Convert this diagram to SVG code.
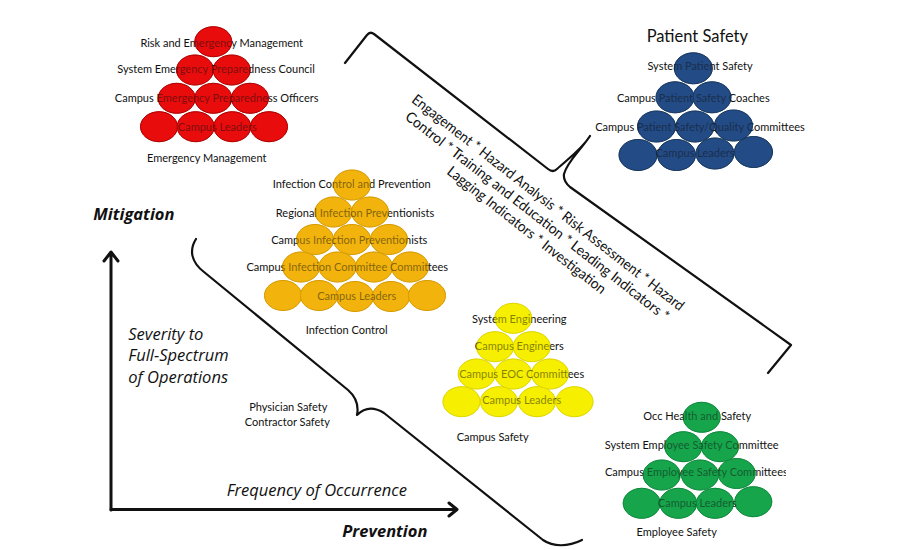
<svg xmlns="http://www.w3.org/2000/svg" xmlns:xlink="http://www.w3.org/1999/xlink" width="900" height="550" viewBox="0 0 900 550">
<style>
.lbl{font-family:Lato,"Open Sans","Liberation Sans",sans-serif;font-size:11px;fill:#111;text-anchor:middle}
.ttl{font-family:Lato,"Open Sans","Liberation Sans",sans-serif;font-size:16.5px;fill:#111;text-anchor:middle}
.ax{font-family:"Open Sans","Liberation Sans",sans-serif;font-style:italic;font-size:16.5px;fill:#111}
.axb{font-family:"Open Sans","Liberation Sans",sans-serif;font-style:italic;font-weight:bold;font-size:16.5px;fill:#111}
.rot{font-family:Lato,"Open Sans","Liberation Sans",sans-serif;font-size:14.5px;fill:#111;text-anchor:middle}
.line{fill:none;stroke:#111;stroke-width:2.2;stroke-linecap:round;stroke-linejoin:round}
.axis{fill:none;stroke:#111;stroke-width:3;stroke-linecap:round;stroke-linejoin:round}
.red{fill:#e80c0c;stroke:#b00000;stroke-width:1}
.blue{fill:#234b86;stroke:#17375e;stroke-width:1}
.gold{fill:#f2b40c;stroke:#d89c00;stroke-width:1}
.yel{fill:#f6ef00;stroke:#e0d800;stroke-width:1}
.grn{fill:#17a54c;stroke:#0e8a3c;stroke-width:1}
.ov{opacity:0.5}
</style>
<defs>
<g id="redC">
<ellipse cx="213.3" cy="41.7" rx="18.5" ry="15"/>
<ellipse cx="195" cy="70" rx="18.5" ry="15"/><ellipse cx="231.7" cy="70" rx="18.5" ry="15"/>
<ellipse cx="176.7" cy="98.3" rx="18.5" ry="15"/><ellipse cx="213.3" cy="98.3" rx="18.5" ry="15"/><ellipse cx="250" cy="98.3" rx="18.5" ry="15"/>
<ellipse cx="159" cy="126.7" rx="18.5" ry="15"/><ellipse cx="195.7" cy="126.7" rx="18.5" ry="15"/><ellipse cx="232.3" cy="126.7" rx="18.5" ry="15"/><ellipse cx="269" cy="126.7" rx="18.5" ry="15"/>
</g>
<g id="blueC">
<ellipse cx="693.3" cy="68.3" rx="19" ry="15.5"/>
<ellipse cx="675" cy="97.3" rx="19" ry="15.5"/><ellipse cx="712" cy="97.3" rx="19" ry="15.5"/>
<ellipse cx="656.5" cy="126.5" rx="19" ry="15.5"/><ellipse cx="695" cy="126.5" rx="19" ry="15.5"/><ellipse cx="733.5" cy="125.5" rx="19" ry="15.5"/>
<ellipse cx="638" cy="155" rx="19" ry="15.5"/><ellipse cx="676.5" cy="155" rx="19" ry="15.5"/><ellipse cx="715" cy="153.5" rx="19" ry="15.5"/><ellipse cx="753.5" cy="152" rx="19" ry="15.5"/>
</g>
<g id="goldC">
<ellipse cx="352" cy="185" rx="18.5" ry="15"/>
<ellipse cx="333.5" cy="212" rx="18.5" ry="15"/><ellipse cx="370" cy="212" rx="18.5" ry="15"/>
<ellipse cx="315" cy="239.5" rx="18.5" ry="15"/><ellipse cx="352" cy="239.5" rx="18.5" ry="15"/><ellipse cx="389" cy="239.5" rx="18.5" ry="15"/>
<ellipse cx="301" cy="267" rx="18.5" ry="15"/><ellipse cx="337.5" cy="267" rx="18.5" ry="15"/><ellipse cx="374" cy="267" rx="18.5" ry="15"/><ellipse cx="410" cy="267" rx="18.5" ry="15"/>
<ellipse cx="283" cy="295.5" rx="18.5" ry="15"/><ellipse cx="319" cy="295.5" rx="18.5" ry="15"/><ellipse cx="355" cy="296.5" rx="18.5" ry="15"/><ellipse cx="391" cy="296.5" rx="18.5" ry="15"/><ellipse cx="427" cy="295.5" rx="18.5" ry="15"/>
</g>
<g id="yelC">
<ellipse cx="513.3" cy="318.3" rx="18.5" ry="15"/>
<ellipse cx="495" cy="346.7" rx="18.5" ry="15"/><ellipse cx="531.7" cy="346.7" rx="18.5" ry="15"/>
<ellipse cx="476.7" cy="374" rx="18.5" ry="15"/><ellipse cx="513.3" cy="374" rx="18.5" ry="15"/><ellipse cx="550" cy="374" rx="18.5" ry="15"/>
<ellipse cx="461.5" cy="401.7" rx="18.5" ry="15"/><ellipse cx="499" cy="401.7" rx="18.5" ry="15"/><ellipse cx="537" cy="401.7" rx="18.5" ry="15"/><ellipse cx="574.5" cy="401.7" rx="18.5" ry="15"/>
</g>
<g id="grnC">
<ellipse cx="701.7" cy="417.3" rx="18.5" ry="15"/>
<ellipse cx="683.3" cy="446.7" rx="18.5" ry="15"/><ellipse cx="720" cy="446.7" rx="18.5" ry="15"/>
<ellipse cx="661.7" cy="475" rx="18.5" ry="15"/><ellipse cx="700" cy="475" rx="18.5" ry="15"/><ellipse cx="736.7" cy="473.5" rx="18.5" ry="15"/>
<ellipse cx="641.7" cy="503.3" rx="18.5" ry="15"/><ellipse cx="678.3" cy="503.3" rx="18.5" ry="15"/><ellipse cx="715" cy="503.3" rx="18.5" ry="15"/><ellipse cx="753.3" cy="501.7" rx="18.5" ry="15"/>
</g>
<clipPath id="grnClip"><rect x="580" y="460" width="206" height="25"/></clipPath>
</defs>
<rect width="900" height="550" fill="#fff"/>

<g id="connectors">
<path class="line" d="M345,63 L367,35 Q370,31 374,34 L548,169 Q553,173 557,169 C568,159 582,149 590,136 C580,151 567,162 564,174 Q563,181 570,187 L791,345 L768,373"/>
<path class="line" d="M196,239 C189,250 191,262 204,272 L348,390 C356,397 359,405 357,415 C364,408 373,406 384,413 L543,540 C553,547 568,547 582,540"/>
<path class="axis" d="M111,510 L111,253 M104,261 L111,252 L118,261"/>
<path class="axis" d="M111,509.5 L456,509.5 M449,503 L457,509.5 L449,516"/>
</g>

<g id="node-emergency">
<use xlink:href="#redC" class="red"/>
<text class="lbl" x="221.7" y="46.5">Risk and Emergency Management</text>
<text class="lbl" x="216" y="72.5">System Emergency Preparedness Council</text>
<text class="lbl" x="216.7" y="102">Campus Emergency Preparedness Officers</text>
<text class="lbl" x="217.3" y="131">Campus Leaders</text>
<use xlink:href="#redC" class="red ov"/>
<text class="lbl" x="206.7" y="161.5">Emergency Management</text>
</g>

<g id="node-patient">
<text class="ttl" x="697.3" y="42">Patient Safety</text>
<use xlink:href="#blueC" class="blue"/>
<text class="lbl" x="700" y="70">System Patient Safety</text>
<text class="lbl" x="693.3" y="102">Campus Patient Safety Coaches</text>
<text class="lbl" x="700" y="131">Campus Patient Safety/Quality Committees</text>
<text class="lbl" x="695" y="157">Campus Leaders</text>
<use xlink:href="#blueC" class="blue ov"/>
</g>

<g id="node-infection">
<use xlink:href="#goldC" class="gold"/>
<text class="lbl" x="351.7" y="188">Infection Control and Prevention</text>
<text class="lbl" x="355" y="217">Regional Infection Preventionists</text>
<text class="lbl" x="349.3" y="243.5">Campus Infection Preventionists</text>
<text class="lbl" x="347.3" y="271">Campus Infection Committee Committees</text>
<text class="lbl" x="356.7" y="300">Campus Leaders</text>
<use xlink:href="#goldC" class="gold ov"/>
<text class="lbl" x="346.7" y="334">Infection Control</text>
</g>

<g id="node-campus">
<use xlink:href="#yelC" class="yel"/>
<text class="lbl" x="519.3" y="322.5">System Engineering</text>
<text class="lbl" x="519.3" y="350">Campus Engineers</text>
<text class="lbl" x="521.7" y="378">Campus EOC Committees</text>
<text class="lbl" x="521.7" y="404">Campus Leaders</text>
<use xlink:href="#yelC" class="yel ov"/>
<text class="lbl" x="492.7" y="441">Campus Safety</text>
</g>

<g id="node-employee">
<use xlink:href="#grnC" class="grn"/>
<text class="lbl" x="697.3" y="420">Occ Health and Safety</text>
<text class="lbl" x="691.7" y="449">System Employee Safety Committee</text>
<text class="lbl" x="605" y="476" style="text-anchor:start" clip-path="url(#grnClip)">Campus Employee Safety Committees</text>
<text class="lbl" x="697.3" y="507">Campus Leaders</text>
<use xlink:href="#grnC" class="grn ov"/>
<text class="lbl" x="676.7" y="536">Employee Safety</text>
</g>

<g id="node-physician">
<text class="lbl" x="288.3" y="411">Physician Safety</text>
<text class="lbl" x="287.3" y="426">Contractor Safety</text>
</g>

<g id="node-practices">
<g transform="translate(415,92) rotate(38)">
<text class="rot" x="173" y="10" textLength="341" lengthAdjust="spacingAndGlyphs">Engagement * Hazard Analysis * Risk Assessment * Hazard</text>
<text class="rot" x="173" y="27.5" textLength="330" lengthAdjust="spacingAndGlyphs">Control * Training and Education * Leading Indicators *</text>
<text class="rot" x="173" y="45" textLength="197" lengthAdjust="spacingAndGlyphs">Lagging Indicators * Investigation</text>
</g>
</g>

<g id="node-axes">
<text class="axb" x="93.3" y="219.5">Mitigation</text>
<text class="ax" x="128.3" y="339.5">Severity to</text>
<text class="ax" x="128.3" y="361">Full-Spectrum</text>
<text class="ax" x="128.3" y="383">of Operations</text>
<text class="ax" x="226.7" y="495.5">Frequency of Occurrence</text>
<text class="axb" x="342.3" y="537">Prevention</text>
</g>
</svg>
